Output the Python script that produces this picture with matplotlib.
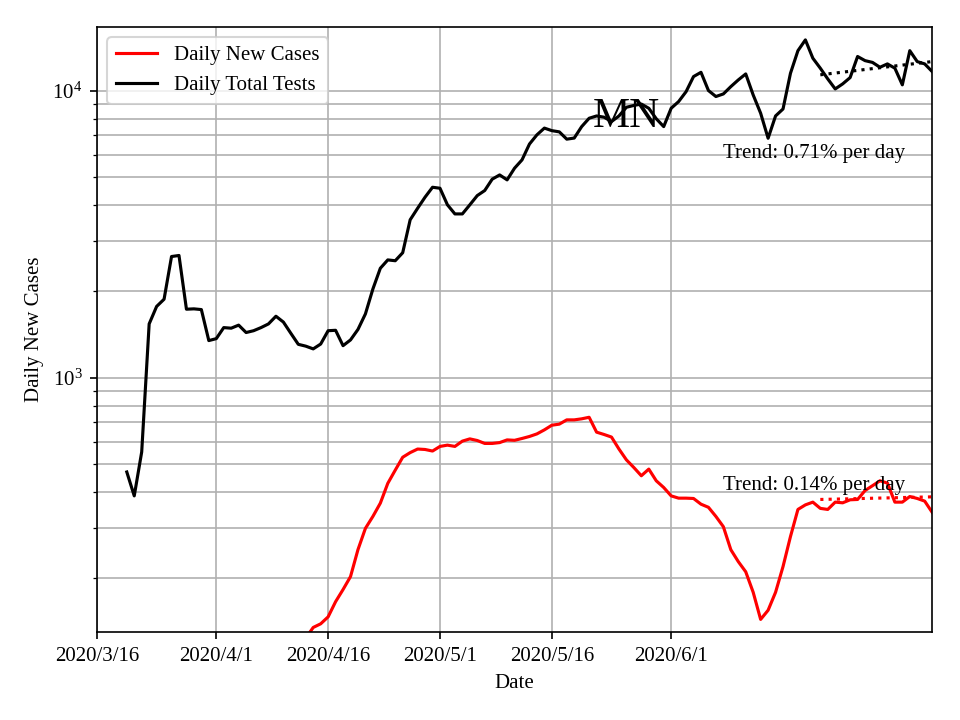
import matplotlib
matplotlib.use("Agg")
import matplotlib.pyplot as plt
import numpy as np
import pandas as pd

plt.rcParams["font.family"] = ["Liberation Serif", "DejaVu Serif"]
plt.rcParams["mathtext.fontset"] = "stix"
plt.rcParams["font.size"] = 10

# daily total tests, from 2020/3/20
tests = [470, 388, 552, 1542, 1774, 1880, 2648, 2670, 1735, 1740,
         1730, 1349, 1370, 1497, 1490, 1527, 1439, 1460, 1497, 1542,
         1640, 1565, 1430, 1309, 1290, 1262, 1312, 1460, 1465, 1295,
         1356, 1475, 1671, 2040, 2410, 2577, 2560, 2730, 3555, 3900,
         4264, 4616, 4580, 4009, 3727, 3727, 4009, 4318, 4497, 4925,
         5096, 4898, 5380, 5750, 6530, 7030, 7420, 7270, 7200, 6790,
         6850, 7510, 8030, 8180, 8100, 7820, 8180, 8770, 8900, 9000,
         8700, 8000, 7510, 8700, 9180, 9940, 11220, 11610, 10030, 9560,
         9760, 10350, 10920, 11460, 9680, 8360, 6840, 8180, 8650, 11520,
         13810, 15060, 13000, 12000, 11010, 10160, 10580, 11130, 13180, 12750,
         12570, 12090, 12420, 12000, 10500, 13810, 12650, 12420, 11680]

# daily new cases, from 2020/4/9
cases = [100, 110, 117, 124, 135, 139, 147, 166, 183, 203,
         252, 299, 329, 366, 429, 477, 529, 549, 565, 563,
         556, 577, 583, 577, 602, 613, 605, 591, 591, 595,
         608, 606, 615, 625, 638, 659, 684, 690, 714, 714,
         720, 729, 647, 635, 622, 565, 518, 487, 456, 481,
         438, 415, 388, 381, 381, 380, 363, 354, 329, 303,
         252, 229, 211, 179, 144, 155, 179, 220, 280, 348,
         361, 369, 351, 348, 369, 367, 376, 377, 405, 421,
         438, 430, 369, 369, 386, 380, 372, 340]

tick_dates = ["2020-03-16", "2020-04-01", "2020-04-16", "2020-05-01", "2020-05-16", "2020-06-01"]
tick_labels = ["2020/3/16", "2020/4/1", "2020/4/16", "2020/5/1", "2020/5/16", "2020/6/1"]

# trend over the last 16 days: start value and % growth per day
trend_start = "2020-06-21"
trend_days = 16
tests_trend_start, tests_rate = 11380, 0.71
cases_trend_start, cases_rate = 377, 0.14

test_dates = pd.date_range("2020-03-20", periods=len(tests))
case_dates = pd.date_range(end=test_dates[-1], periods=len(cases))
tdates = pd.date_range(trend_start, periods=trend_days)
k = np.arange(trend_days)

fig, ax = plt.subplots(figsize=(6.4, 4.8), dpi=150)
fig.subplots_adjust(left=0.101, right=0.971, bottom=0.122, top=0.9625)

ax.plot(case_dates, cases, color="red", label="Daily New Cases")
ax.plot(test_dates, tests, color="black", label="Daily Total Tests")
ax.plot(tdates, tests_trend_start * (1 + tests_rate / 100) ** k, color="black", linestyle=":")
ax.plot(tdates, cases_trend_start * (1 + cases_rate / 100) ** k, color="red", linestyle=":")

ax.text(pd.Timestamp("2020-06-08"), 5850, "Trend: %.2f%% per day" % tests_rate)
ax.text(pd.Timestamp("2020-06-08"), 407, "Trend: %.2f%% per day" % cases_rate)
ax.text(pd.Timestamp("2020-05-26"), 7500, "MN", fontsize=20, ha="center")

ax.set_yscale("log")
ax.set_ylim(130, 16700)
ax.set_xlim(pd.Timestamp("2020-03-16"), test_dates[-1])
ax.set_xticks(pd.to_datetime(tick_dates))
ax.set_xticklabels(tick_labels)
ax.grid(which="both")
ax.set_xlabel("Date")
ax.set_ylabel("Daily New Cases")
ax.legend(loc="upper left")

plt.savefig("out.png", dpi=150)
